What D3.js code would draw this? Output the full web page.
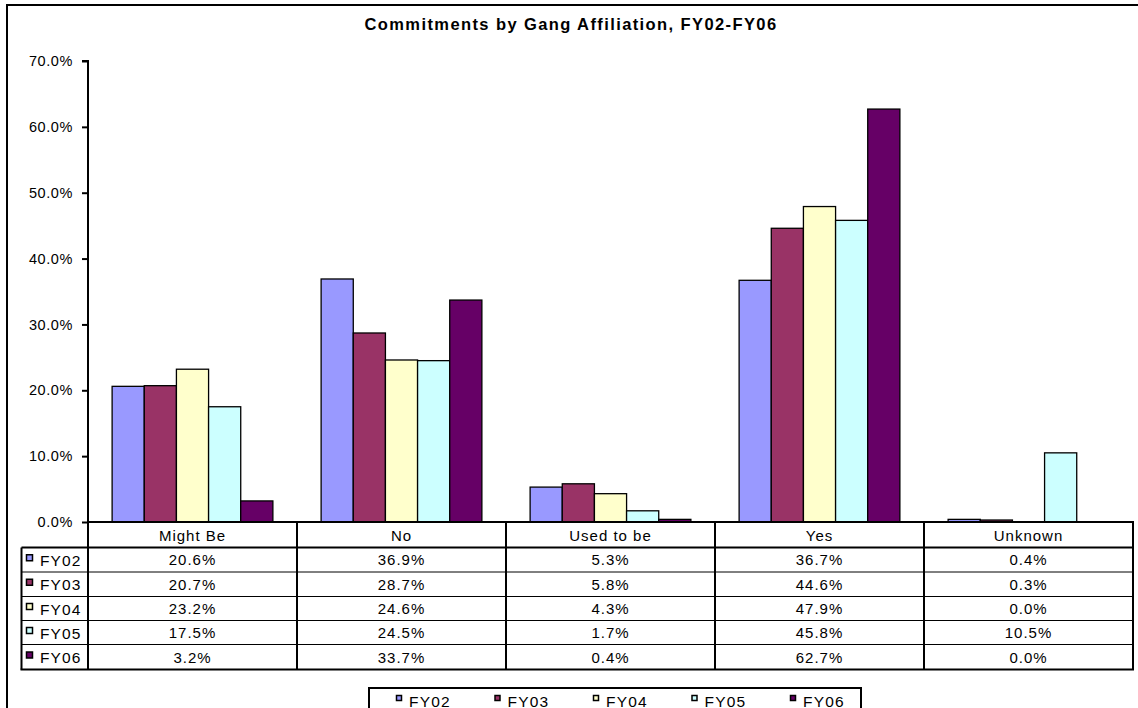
<!DOCTYPE html>
<html><head><meta charset="utf-8">
<script src="https://cdn.jsdelivr.net/npm/d3@7"></script>
<style>body{margin:0;background:#fff;} svg{display:block;font-family:"Liberation Sans",Arial,sans-serif;}</style>
</head><body><svg id="c" width="1138" height="708"></svg>
<script>
const categories = ["Might Be","No","Used to be","Yes","Unknown"];
const seriesNames = ["FY02","FY03","FY04","FY05","FY06"];
const FY02 = [20.6,36.9,5.3,36.7,0.4];
const FY03 = [20.7,28.7,5.8,44.6,0.3];
const FY04 = [23.2,24.6,4.3,47.9,0.0];
const FY05 = [17.5,24.5,1.7,45.8,10.5];
const FY06 = [3.2,33.7,0.4,62.7,0.0];
const colors = ["#9999FF","#993366","#FFFFCC","#CCFFFF","#660066"];
const yTicks = [0,10,20,30,40,50,60,70];
const title = "Commitments by Gang Affiliation, FY02-FY06";

(function(){
const series = [FY02,FY03,FY04,FY05,FY06];
const svg = d3.select("#c");
svg.append("rect").attr("x",7).attr("y",5).attr("width",1140).attr("height",720)
  .attr("fill","#fff").attr("stroke","#000").attr("stroke-width",2);

svg.append("text").attr("x",571).attr("y",30).attr("text-anchor","middle")
  .attr("font-weight","bold").attr("font-size",16.5).attr("letter-spacing",1.4).text(title);

const pL=88, pR=1133, pT=61, pB=522;
const x0 = d3.scaleBand().domain(categories).range([pL,pR]).paddingInner(0).paddingOuter(0);
const x1 = d3.scaleBand().domain(seriesNames).range([0,x0.bandwidth()]).paddingOuter(0.75).paddingInner(0);
const y = d3.scaleLinear().domain([0,70]).range([pB,pT]);

const g = svg.append("g");
categories.forEach((c,ci)=>{
  seriesNames.forEach((s,si)=>{
    const v = series[si][ci];
    if (v<=0) return;
    g.append("rect").attr("x",x0(c)+x1(s)).attr("y",y(v))
      .attr("width",x1.bandwidth()).attr("height",pB-y(v))
      .attr("fill",colors[si]).attr("stroke","#000").attr("stroke-width",1.3);
  });
});

const yAxis = d3.axisLeft(y).tickValues(yTicks).tickSize(6).tickPadding(9)
  .tickFormat(d=>d.toFixed(1)+"%");
const ya = svg.append("g").attr("transform",`translate(${pL},0)`).call(yAxis);
ya.select(".domain").attr("stroke-width",2).attr("d",`M-6,${pT}H0V${pB}`);
ya.selectAll(".tick line").attr("stroke-width",2);
ya.selectAll("text").attr("font-size",14.5).attr("letter-spacing",0.6)
  .attr("font-family","Liberation Sans, Arial, sans-serif").attr("fill","#000");

const rowTops=[522,547.5,572,596.5,620.5,644.5,669.5];
const tableLeft=21.5;
const tg = svg.append("g");
const cellFont=15, cellLS=1.0;
categories.forEach(c=>{
  tg.append("text").attr("x",x0(c)+x0.bandwidth()/2).attr("y",541).attr("text-anchor","middle")
    .attr("font-size",cellFont).attr("letter-spacing",cellLS).text(c);
});
seriesNames.forEach((s,si)=>{
  const yc=(rowTops[si+1]+rowTops[si+2])/2;
  tg.append("rect").attr("x",26.5).attr("y",yc-5).attr("width",6).attr("height",6)
    .attr("fill",colors[si]).attr("stroke","#000").attr("stroke-width",1.5);
  tg.append("text").attr("x",40).attr("y",yc+6).attr("font-size",15.5).attr("letter-spacing",1.1).text(s);
  categories.forEach((c,ci)=>{
    tg.append("text").attr("x",x0(c)+x0.bandwidth()/2).attr("y",yc+5.5).attr("text-anchor","middle")
      .attr("font-size",cellFont).attr("letter-spacing",cellLS).text(series[si][ci].toFixed(1)+"%");
  });
});
for(let i=2;i<rowTops.length-1;i++){
  tg.append("line").attr("x1",tableLeft).attr("x2",pR).attr("y1",rowTops[i]).attr("y2",rowTops[i])
    .attr("stroke","#000").attr("stroke-width",1);
}
tg.append("line").attr("x1",tableLeft).attr("x2",pR).attr("y1",rowTops[1]).attr("y2",rowTops[1]).attr("stroke","#000").attr("stroke-width",2);
tg.append("line").attr("x1",tableLeft-1).attr("x2",pR+1).attr("y1",rowTops[6]).attr("y2",rowTops[6]).attr("stroke","#000").attr("stroke-width",2);
tg.append("line").attr("x1",pL).attr("x2",pR+1).attr("y1",pB).attr("y2",pB).attr("stroke","#000").attr("stroke-width",2);
categories.forEach(c=>{
  tg.append("line").attr("x1",x0(c)).attr("x2",x0(c)).attr("y1",pB).attr("y2",rowTops[6]).attr("stroke","#000").attr("stroke-width",2);
});
tg.append("line").attr("x1",pR).attr("x2",pR).attr("y1",pB).attr("y2",rowTops[6]).attr("stroke","#000").attr("stroke-width",2);
tg.append("line").attr("x1",tableLeft).attr("x2",tableLeft).attr("y1",rowTops[1]).attr("y2",rowTops[6]).attr("stroke","#000").attr("stroke-width",2);

const lg = svg.append("g");
lg.append("rect").attr("x",369).attr("y",688).attr("width",492).attr("height",40)
  .attr("fill","#fff").attr("stroke","#000").attr("stroke-width",2);
seriesNames.forEach((s,si)=>{
  const lx=396.5+si*98.5;
  lg.append("rect").attr("x",lx).attr("y",695.5).attr("width",5).attr("height",5)
    .attr("fill",colors[si]).attr("stroke","#000").attr("stroke-width",1.5);
  lg.append("text").attr("x",lx+12.5).attr("y",707.3).attr("font-size",15.5).attr("letter-spacing",1.2).text(s);
});
})();
</script></body></html>
